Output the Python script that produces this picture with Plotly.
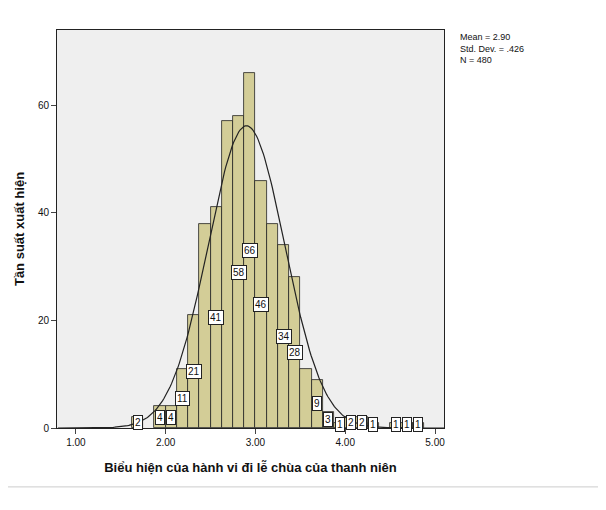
import numpy as np
import plotly.graph_objects as go

bin_left = [1.625,1.875,2.0,2.125,2.25,2.375,2.5,2.625,2.75,2.875,3.0,3.125,3.25,3.375,3.5,3.625,3.75,3.875,4.0,4.125,4.25,4.5,4.625,4.75]
counts   = [2,4,4,11,21,38,41,57,58,66,46,38,34,28,11,9,3,1,2,2,1,1,1,1]
shown    = [1,1,1,1,1,0,1,0,1,1,1,0,1,1,0,1,1,1,1,1,1,1,1,1]
width = 0.125
mean, sd, n = 2.90, 0.426, 480
xticks = [1.0,2.0,3.0,4.0,5.0]
yticks = [0,20,40,60]

centers = [b + width/2 for b in bin_left]
fig = go.Figure()
fig.add_bar(x=centers, y=counts, width=width, marker=dict(color="#d3cd97", line=dict(color="#222", width=0.8)))
xs = np.linspace(0.8, 5.1, 300)
ys = n*width/(sd*np.sqrt(2*np.pi))*np.exp(-0.5*((xs-mean)/sd)**2)
fig.add_scatter(x=xs, y=ys, mode="lines", line=dict(color="#222", width=1.2))
for c, v, s in zip(centers, counts, shown):
    if s:
        fig.add_annotation(x=c, y=max(v/2, 0.6), text=str(v), showarrow=False,
                           font=dict(size=10, color="#111", family="Arial"),
                           bgcolor="white", bordercolor="#222", borderwidth=1, borderpad=1)
fig.add_annotation(xref="paper", yref="paper", x=1.035, y=1.0, xanchor="left", yanchor="top", align="left",
                   text="Mean = 2.90<br>Std. Dev. = .426<br>N = 480", showarrow=False,
                   font=dict(size=9, color="#111", family="Arial"))
fig.update_layout(width=606, height=510, showlegend=False, paper_bgcolor="white", plot_bgcolor="#efefef",
                  margin=dict(l=49, r=170, t=22, b=90), bargap=0,
                  font=dict(family="Arial", color="#111"),
                  shapes=[dict(type="line", xref="paper", yref="paper", x0=-0.14, x1=1.42, y0=-0.148, y1=-0.148,
                               line=dict(color="#ccc", width=1))])
fig.update_xaxes(range=[0.79, 5.1], tickvals=xticks, ticktext=[f"{t:.2f}" for t in xticks], ticks="outside",
                 showgrid=False, zeroline=False, showline=True, linecolor="#222", mirror=True, automargin=False,
                 tickfont=dict(size=10), title=dict(text="<b>Biểu hiện của hành vi đi lễ chùa của thanh niên</b>", font=dict(size=13)))
fig.update_yaxes(range=[0, 74], tickvals=yticks, ticks="outside", showgrid=False, zeroline=False, automargin=False,
                 showline=True, linecolor="#222", mirror=True, tickfont=dict(size=10),
                 title=dict(text="<b>Tần suất xuất hiện</b>", font=dict(size=13), standoff=10))
fig.write_html("out.html")
